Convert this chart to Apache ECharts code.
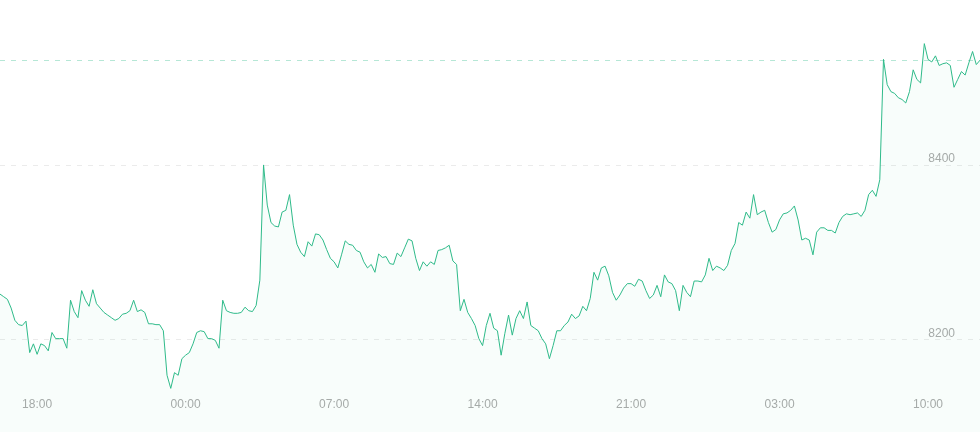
<!DOCTYPE html>
<html>
<head>
<meta charset="utf-8">
<script src="https://cdn.jsdelivr.net/npm/echarts@6/dist/echarts.min.js"></script>
<style>
html,body{margin:0;padding:0;background:#fff;}
#chart{width:980px;height:432px;}
</style>
</head>
<body>
<div id="chart"></div>
<script>
// Price series (one point per step)
const prices = [
  8252, 8249, 8246, 8236, 8222, 8217, 8216, 8221, 8185, 8195,
  8183, 8195, 8193, 8187, 8208, 8201, 8201, 8201, 8190, 8245,
  8232, 8225, 8256, 8245, 8238, 8257, 8241, 8236, 8231, 8228,
  8225, 8222, 8224, 8229, 8230, 8233, 8245, 8232,
  8234, 8231, 8218, 8218, 8217, 8217, 8210, 8159, 8144, 8162,
  8159, 8178, 8182, 8185, 8195, 8208, 8210, 8209, 8201, 8201,
  8199, 8190, 8245, 8233, 8231, 8230, 8230, 8231, 8237, 8233,
  8232, 8239, 8268, 8400, 8354, 8334, 8330, 8329,
  8346, 8348, 8366, 8331, 8309, 8300, 8295, 8312, 8307, 8321,
  8320, 8314, 8303, 8293, 8289, 8282, 8297, 8313, 8309, 8308,
  8302, 8300, 8289, 8282, 8286, 8277, 8298, 8294, 8295, 8287,
  8286, 8299, 8295, 8305, 8315, 8313, 8293, 8279,
  8289, 8284, 8289, 8286, 8302, 8303, 8305, 8308, 8290, 8286,
  8233, 8246, 8231, 8224, 8216, 8201, 8193, 8216, 8230, 8213,
  8210, 8182, 8207, 8228, 8205, 8224, 8233, 8224, 8243, 8216,
  8213, 8210, 8201, 8195, 8178, 8193, 8210, 8210,
  8216, 8220, 8229, 8224, 8227, 8238, 8233, 8247, 8277, 8268,
  8282, 8284, 8273, 8254, 8245, 8251, 8259, 8264, 8264, 8261,
  8269, 8267, 8256, 8247, 8251, 8262, 8249, 8274, 8266, 8264,
  8256, 8233, 8262, 8254, 8249, 8267, 8267,
  8266, 8274, 8293, 8279, 8284, 8282, 8279, 8285, 8302, 8310,
  8334, 8331, 8346, 8339, 8366, 8343, 8346, 8348, 8334, 8323,
  8326, 8337, 8344, 8345, 8348, 8353, 8337, 8314, 8316, 8314,
  8297, 8323, 8328, 8328, 8325, 8325, 8322, 8334,
  8341, 8344, 8343, 8344, 8345, 8341, 8348, 8366, 8371, 8364,
  8383, 8521, 8492, 8484, 8482, 8477, 8475, 8471, 8484, 8509,
  8498, 8494, 8539, 8521, 8518, 8525, 8514, 8516, 8517, 8514,
  8489, 8498, 8507, 8503, 8517, 8530, 8515, 8520
];

// X tick labels and the data index each one sits on
const tickLabels = ['18:00', '00:00', '07:00', '14:00', '21:00', '03:00', '10:00'];
const tickIndex = [10, 50, 90, 130, 170, 210, 250];

// Category per data point
const categories = prices.map((_, i) => {
  const k = tickIndex.indexOf(i);
  return k >= 0 ? tickLabels[k] : String(i);
});

const lastPrice = prices[prices.length - 1];

const chart = echarts.init(document.getElementById('chart'), null, {renderer: 'canvas'});
chart.setOption({
  animation: false,
  backgroundColor: '#ffffff',
  grid: {left: 0, right: 0, top: 0, bottom: 0, containLabel: false},
  xAxis: {
    type: 'category',
    data: categories,
    boundaryGap: false,
    axisLine: {show: false},
    axisTick: {show: false},
    splitLine: {show: false},
    axisLabel: {
      inside: true,
      margin: 21,
      color: '#aaaaaa',
      fontSize: 12,
      fontFamily: 'Liberation Sans, Arial, sans-serif',
      interval: function (idx) { return tickIndex.indexOf(idx) >= 0; },
      formatter: function (val) { return tickLabels.indexOf(val) >= 0 ? val : ''; }
    }
  },
  yAxis: {
    type: 'value',
    position: 'right',
    scale: true,
    min: function (v) { return v.min - 50; },
    max: function (v) { return v.max + 50; },
    splitNumber: 3,
    axisLine: {show: false},
    axisTick: {show: false},
    axisLabel: {
      inside: true,
      margin: 25,
      color: '#aaaaaa',
      fontSize: 12,
      fontFamily: 'Liberation Sans, Arial, sans-serif',
      verticalAlign: 'bottom',
      showMinLabel: false,
      showMaxLabel: false,
      formatter: function (v) { return String(v); }
    },
    splitLine: {
      show: true,
      lineStyle: {
        color: ['rgba(0,0,0,0)', '#ebebeb', '#ebebeb', 'rgba(0,0,0,0)'],
        width: 1,
        type: [5, 6]
      }
    }
  },
  series: [{
    type: 'line',
    data: prices,
    showSymbol: false,
    symbol: 'none',
    sampling: null,
    lineStyle: {color: '#2fbb8a', width: 1},
    itemStyle: {color: '#2fbb8a'},
    areaStyle: {color: 'rgba(47,187,138,0.05)', origin: 'start'},
    markLine: {
      silent: true,
      symbol: 'none',
      label: {show: false},
      lineStyle: {color: 'rgba(47,187,138,0.35)', width: 1, type: [5, 6]},
      data: [{yAxis: lastPrice}]
    }
  }]
});
</script>
</body>
</html>
